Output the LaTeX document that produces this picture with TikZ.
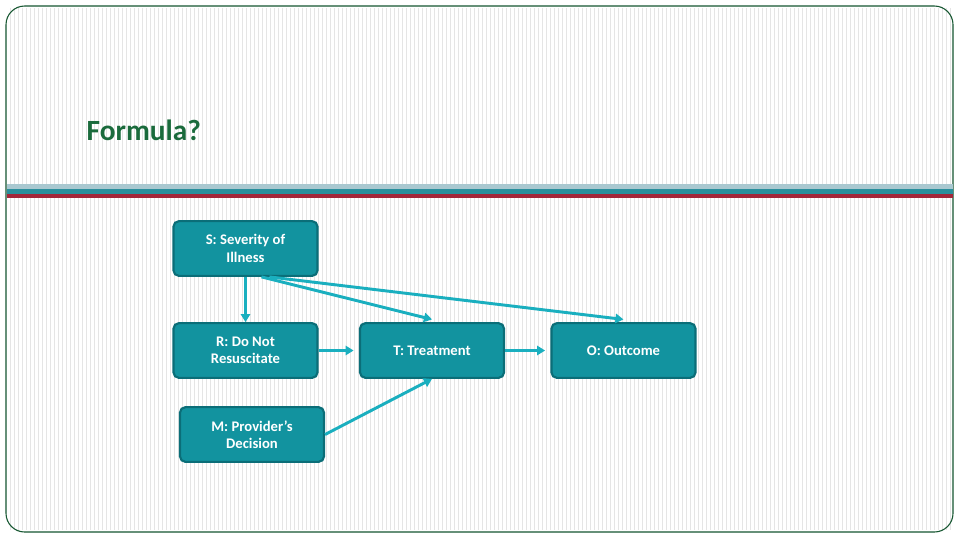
\documentclass[tikz,border=0pt]{standalone}
\usepackage{fontspec}
\setmainfont{Carlito}
\usetikzlibrary{arrows.meta}
\definecolor{boxfill}{HTML}{12939F}
\definecolor{boxedge}{HTML}{0B6E78}
\definecolor{arrowcol}{HTML}{1AAFBF}
\definecolor{titlegreen}{HTML}{1A6B3C}
\definecolor{barred}{HTML}{A3263A}
\definecolor{barteal}{HTML}{2A8F9C}
\definecolor{barlight}{HTML}{A9C8D0}
\tikzset{%
  tipA/.tip={Triangle[angle=60:7pt]},
  stepbox/.style={draw=boxedge, line width=1.6pt, fill=boxfill, rounded corners=4pt,
    text=white, font=\fontsize{11}{13}\selectfont\bfseries, align=center,
    minimum width=108pt, minimum height=41pt, inner sep=2pt},
  link/.style={arrowcol, line width=2.2pt, -tipA}
}

\begin{document}
\begin{tikzpicture}[x=.75pt,y=-.75pt]
\useasboundingbox (0,0) rectangle (960,540);
\fill[white] (0,0) rectangle (960,540);
%\begin{scope} background stripes
\foreach \x in {10,14,...,950} \draw[black!10, line width=.6pt] (\x,8) -- (\x,530);
\draw[titlegreen!80!black, line width=.8pt, rounded corners=14pt] (6,6) rectangle (953,532);
\fill[barlight] (7,184) rectangle (953,189);
\fill[barteal] (7,189) rectangle (953,193.5);
\fill[barred] (7,194) rectangle (953,198);
\node[anchor=west, text=titlegreen, font=\fontsize{22}{26}\selectfont\bfseries] (title) at (82,130) {Formula?};
%\end{scope}
\node[stepbox] (S) at (245.5,248.5) {S: Severity of\\Illness};
\node[stepbox] (R) at (245.5,350.5) {R: Do Not\\Resuscitate};
\node[stepbox] (M) at (252,434.5) {M: Provider's\\Decision};
\node[stepbox] (T) at (432,350.5) {T: Treatment};
\node[stepbox] (O) at (623.5,350.5) {O: Outcome};
\draw[link] (S.south) -- (R.north);
\draw[link] ([xshift=12pt]S.south) -- ([yshift=2pt]T.north);
\draw[link] ([xshift=18pt]S.south) -- ([yshift=2pt]O.north);
\draw[link] (R.east) -- ([xshift=-4pt]T.west);
\draw[link] (T.east) -- ([xshift=-4pt]O.west);
\draw[link] (M.east) -- (T.south);
\end{tikzpicture}
\end{document}
